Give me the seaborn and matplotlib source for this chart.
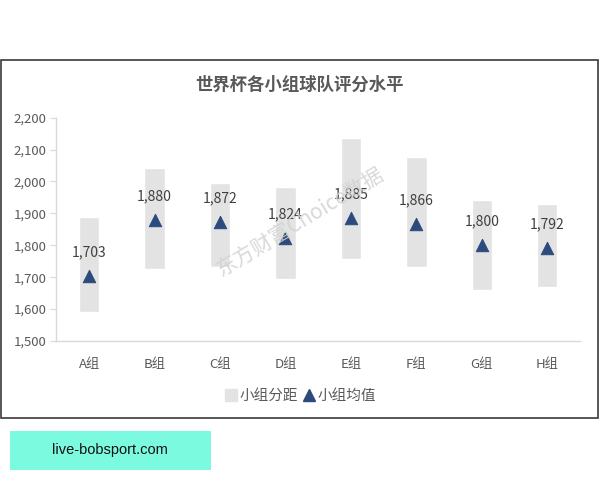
import matplotlib
matplotlib.use("Agg")
import matplotlib.pyplot as plt
import seaborn as sns
import pandas as pd
from matplotlib.lines import Line2D
from matplotlib.patches import Rectangle
from matplotlib.ticker import FuncFormatter

# 数据
groups = ["A组", "B组", "C组", "D组", "E组", "F组", "G组", "H组"]
low = [1592, 1725, 1731, 1694, 1756, 1733, 1660, 1670]
high = [1890, 2041, 1994, 1984, 2135, 2078, 1942, 1929]
mean = [1703, 1880, 1872, 1824, 1885, 1866, 1800, 1792]
yticks = [1500, 1600, 1700, 1800, 1900, 2000, 2100, 2200]

df = pd.DataFrame({"group": groups, "low": low, "high": high, "mean": mean})
df["pos"] = range(len(df))

sns.set_style("white")
plt.rcParams["font.family"] = ["Noto Sans CJK SC", "DejaVu Sans"]

bar_color = "#E3E3E3"
mark_color = "#2C4A7C"
txt_color = "#595959"

fig = plt.figure(figsize=(6, 4.8), dpi=100)
ax = fig.add_axes([0.094, 0.2896, 0.8727, 0.4652])

# 小组分距
ax.bar(df["pos"], df["high"] - df["low"], bottom=df["low"], width=0.31,
       color=bar_color, zorder=1)
# 小组均值
sns.scatterplot(data=df, x="pos", y="mean", marker="^", s=80, color=mark_color,
                edgecolor=mark_color, ax=ax, zorder=3, legend=False)

for p, v in zip(df["pos"], df["mean"]):
    ax.annotate(f"{v:,}", (p, v), xytext=(0, 17), textcoords="offset points",
                ha="center", va="center", fontsize=10, color="#404040")

ax.set_xlim(-0.5, len(groups) - 0.5)
ax.set_ylim(1500, 2200)
ax.set_yticks(yticks)
ax.yaxis.set_major_formatter(FuncFormatter(lambda v, _: f"{int(v):,}"))
ax.set_xticks(df["pos"])
ax.set_xticklabels(groups)
ax.set_xlabel("")
ax.set_ylabel("")
ax.tick_params(axis="y", left=True, length=4, color="#D9D9D9", labelsize=9.5,
               labelcolor=txt_color, pad=3)
ax.tick_params(axis="x", bottom=False, labelsize=9.5, labelcolor=txt_color, pad=9)
for s in ["top", "right"]:
    ax.spines[s].set_visible(False)
for s in ["left", "bottom"]:
    ax.spines[s].set_color("#D9D9D9")
    ax.spines[s].set_linewidth(1)

fig.text(0.5, 1 - 85 / 480, "世界杯各小组球队评分水平", ha="center", va="center",
         fontsize=12.5, fontweight="bold", color=txt_color)

# 水印
fig.text(300 / 600, 1 - 223 / 480, "东方财富Choice数据", ha="center", va="center",
         rotation=31, fontsize=15, color="#D2D2D2", alpha=0.85, zorder=5)

handles = [
    Line2D([], [], linestyle="none", marker="s", markersize=8, color=bar_color),
    Line2D([], [], linestyle="none", marker="^", markersize=9, color=mark_color),
]
fig.legend(handles, ["小组分距", "小组均值"], loc="center",
           bbox_to_anchor=(0.5, 1 - 396 / 480), ncol=2, frameon=False,
           fontsize=10.5, labelcolor=txt_color, handletextpad=0.1,
           columnspacing=0.2, handlelength=1.0)

# 图表外框
fig.add_artist(Rectangle((1 / 600, 1 - 418 / 480), 597 / 600, 358 / 480,
                         transform=fig.transFigure, fill=False,
                         edgecolor="#3A3A3A", linewidth=1.2))

# 底部标签
fig.add_artist(Rectangle((10 / 600, 1 - 470 / 480), 201 / 600, 39 / 480,
                         transform=fig.transFigure, facecolor="#7CFADF",
                         edgecolor="none"))
fig.text(110 / 600, 1 - 450 / 480, "live-bobsport.com", ha="center", va="center",
         fontsize=10.5, color="#111111", family=["Liberation Sans", "DejaVu Sans"])

fig.savefig("out.png", dpi=100, facecolor="white")
